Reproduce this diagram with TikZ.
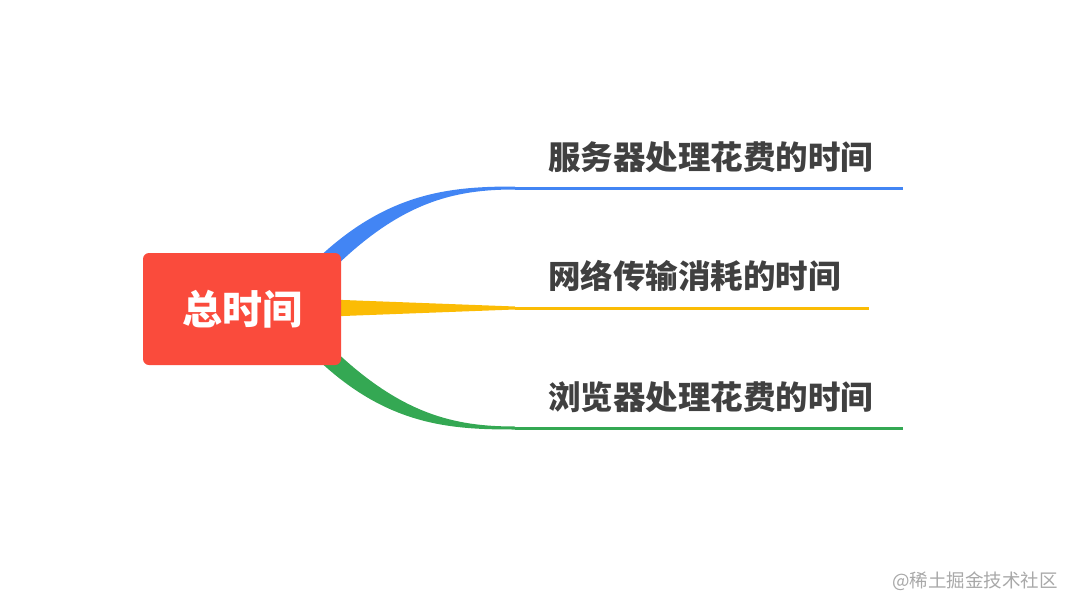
\documentclass[tikz,border=0pt]{standalone}
\usepackage{fontspec}
\newfontfamily\cjk{Noto Sans CJK SC}
\definecolor{rootred}{HTML}{FA4B3C}
\definecolor{gblue}{HTML}{4285F4}
\definecolor{gyellow}{HTML}{FBBC05}
\definecolor{ggreen}{HTML}{34A853}
\definecolor{labelgray}{HTML}{404040}
\definecolor{markgray}{HTML}{A8A8A8}
\begin{document}
\begin{tikzpicture}[x=1pt,y=-1pt,
  rootbox/.style={fill=rootred,rounded corners=6pt,minimum width=198pt,minimum height=112pt,inner sep=0pt,text=white,font=\cjk\bfseries\fontsize{40}{42}\selectfont},
  leaflabel/.style={anchor=west,inner sep=0pt,text=labelgray,font=\cjk\bfseries\fontsize{32.5}{34}\selectfont},
  leafline/.style={line width=3pt}]
\useasboundingbox (0,0) rectangle (1074,610);
% tapered branches (drawn before the root box)
\coordinate (b0) at (515,188);
\coordinate (b1) at (903,188);
\coordinate (y0) at (515,308);
\coordinate (y1) at (869,308);
\coordinate (g0) at (515,428);
\coordinate (g1) at (903,428);
\fill[gblue] (314,262) .. controls (386,192) and (450,186.5) .. (515,186.5)
  -- (515,189.5) .. controls (455,189.5) and (400,201) .. (328,274) -- cycle;
\fill[ggreen] (314,356) .. controls (386,426) and (450,429.5) .. (515,429.5)
  -- (515,426.5) .. controls (455,426.5) and (400,415) .. (328,344) -- cycle;
\fill[gyellow] (330,299.5) -- (515,306.5) -- (515,309.5) -- (330,316.5) -- cycle;
\node[rootbox] (root) at (242,309) {总时间};
\draw[leafline,gblue] (b0) -- (b1);
\draw[leafline,gyellow] (y0) -- (y1);
\draw[leafline,ggreen] (g0) -- (g1);
\node[leaflabel] (l1) at (548,157) {服务器处理花费的时间};
\node[leaflabel] (l2) at (548,276) {网络传输消耗的时间};
\node[leaflabel] (l3) at (548,397) {浏览器处理花费的时间};
\node[anchor=east,inner sep=0pt,text=markgray,font=\cjk\fontsize{18.5}{20}\selectfont] (mark) at (1058,581) {@稀土掘金技术社区};
\end{tikzpicture}
\end{document}
